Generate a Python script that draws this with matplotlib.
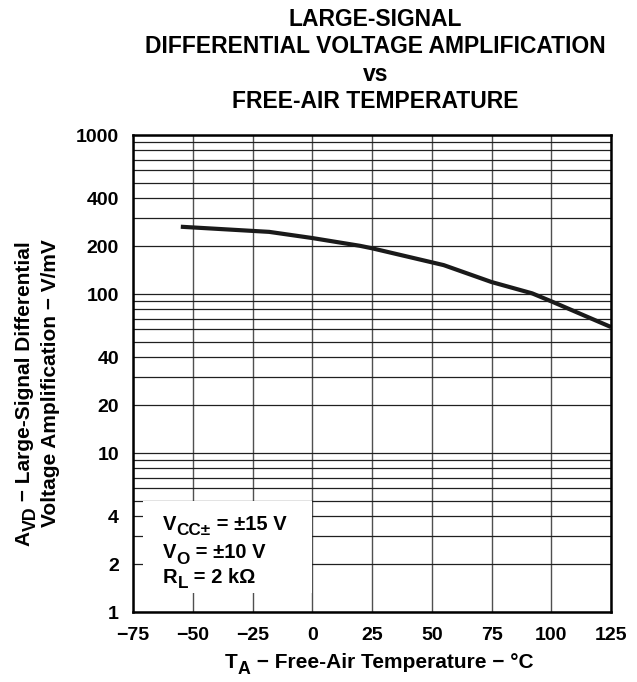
import numpy as np
import matplotlib
matplotlib.use('Agg')
import matplotlib.pyplot as plt
from matplotlib.patches import Rectangle
from matplotlib.ticker import FixedLocator, NullFormatter
from matplotlib.transforms import offset_copy

# curve
temp_c = [-55, -18, 0, 20, 25, 55, 75, 92, 100, 125]
avd = [265, 246, 225, 201, 194, 152, 119, 101, 90, 62]

x_ticks = [-75, -50, -25, 0, 25, 50, 75, 100, 125]
y_ticks = [1, 2, 4, 10, 20, 40, 100, 200, 400, 1000]
y_minor = [m * 10 ** d for d in range(3) for m in range(2, 10)]

title_lines = ['LARGE-SIGNAL', 'DIFFERENTIAL VOLTAGE AMPLIFICATION', 'vs',
               'FREE-AIR TEMPERATURE']
# (text, is_subscript) runs
cond_lines = [[('V', False), ('CC\u00b1', True), (' = \u00b115 V', False)],
              [('V', False), ('O', True), (' = \u00b110 V', False)],
              [('R', False), ('L', True), (' = 2 k\u03a9', False)]]
ylab1 = [('A', False), ('VD', True), (' \u2212 Large-Signal Differential', False)]
ylab2 = [('Voltage Amplification \u2212 V/mV', False)]
xlab = [('T', False), ('A', True), (' \u2212 Free-Air Temperature \u2212 \u00b0C', False)]

plt.rcParams['font.family'] = ['Liberation Sans', 'DejaVu Sans']
plt.rcParams['font.weight'] = 'bold'


def put_runs(fig, x, y, runs, size, coords, rotation=0, center=False):
    '''Draw text made of normal / subscript pieces, one after another.'''
    rend = fig.canvas.get_renderer()
    texts, widths = [], []
    for s, sub in runs:
        t = fig.text(x, y, s, transform=coords, fontsize=size * (0.85 if sub else 1),
                     fontweight='bold', rotation=rotation, rotation_mode='anchor',
                     ha='left', va='baseline', zorder=6)
        bb = t.get_window_extent(rend)
        widths.append((bb.height if rotation else bb.width) * 72 / fig.dpi)
        texts.append((t, sub))
    pos = -sum(widths) / 2 if center else 0
    for (t, sub), w in zip(texts, widths):
        drop = size * 0.27 if sub else 0
        if rotation:
            tr = offset_copy(coords, fig=fig, x=drop, y=pos, units='points')
        else:
            tr = offset_copy(coords, fig=fig, x=pos, y=-drop, units='points')
        t.set_transform(tr)
        pos += w


fig = plt.figure(figsize=(6.37, 6.82), dpi=100)
ax = fig.add_axes([0.2088, 0.1026, 0.7504, 0.6994])

ax.set_yscale('log')
ax.set_xlim(-75, 125)
ax.set_ylim(1, 1000)

ax.xaxis.set_major_locator(FixedLocator(x_ticks))
ax.yaxis.set_major_locator(FixedLocator(y_ticks))
ax.yaxis.set_minor_locator(FixedLocator(y_minor))
ax.yaxis.set_minor_formatter(NullFormatter())
ax.set_xticklabels(['\u2212' + str(-t) if t < 0 else str(t) for t in x_ticks])
ax.set_yticklabels([str(t) for t in y_ticks])

ax.grid(True, which='major', axis='x', color='#505050', lw=1.0)
ax.grid(True, which='both', axis='y', color='#202020', lw=0.9)
ax.tick_params(which='both', length=0, labelsize=14)
ax.tick_params(axis='x', pad=11)
ax.tick_params(axis='y', pad=10)
for s in ax.spines.values():
    s.set_linewidth(1.8)
    s.set_zorder(5)

ax.plot(temp_c, avd, color='#1a1a1a', lw=3, solid_capstyle='butt', zorder=4)

# white box with test conditions
ax.add_patch(Rectangle((0.021, 0.040), 0.353, 0.193, transform=ax.transAxes,
                       facecolor='white', edgecolor='none', zorder=3))
for i, runs in enumerate(cond_lines):
    put_runs(fig, 0.063, [0.172, 0.113, 0.061][i], runs, 14.5, ax.transAxes)

for i, line in enumerate(title_lines):
    fig.text(0.589, 0.972 - i * 0.0405, line, ha='center', va='center',
             fontsize=16.5, fontweight='bold')

put_runs(fig, 0.047, 0.423, ylab1, 15, fig.transFigure, rotation=90, center=True)
put_runs(fig, 0.0885, 0.438, ylab2, 15, fig.transFigure, rotation=90, center=True)
put_runs(fig, 0.595, 0.02, xlab, 15, fig.transFigure, center=True)

fig.savefig('out.png', dpi=100, facecolor='white')
